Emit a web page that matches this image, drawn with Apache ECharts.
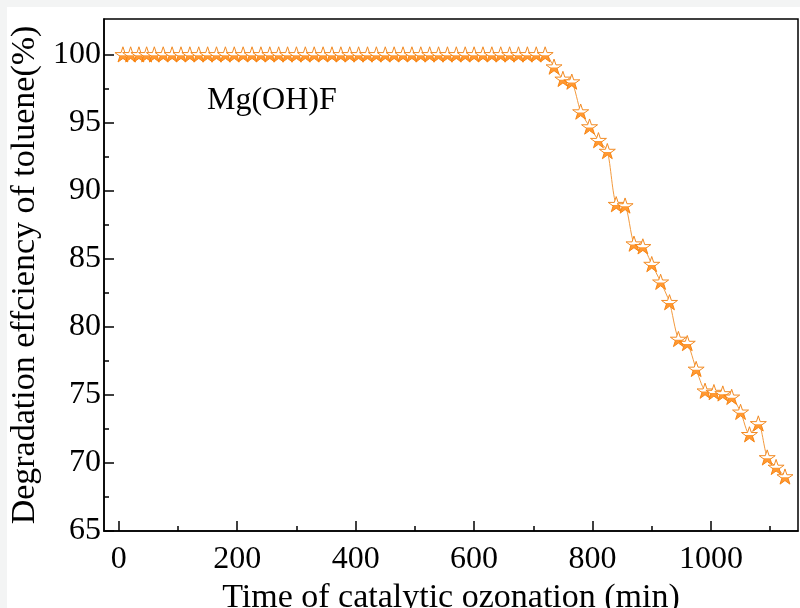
<!DOCTYPE html>
<html>
<head>
<meta charset="utf-8">
<script src="https://cdn.jsdelivr.net/npm/echarts@6/dist/echarts.min.js"></script>
<style>html,body{margin:0;padding:0;background:#fff;}#c{width:800px;height:608px;}</style>
</head>
<body>
<div id="c"></div>
<script>
// Data
var times = [7, 20, 34, 47, 60, 75, 90, 105, 120, 135, 150, 165, 180, 195, 210, 225, 240, 255, 270, 285,
  300, 315, 330, 345, 360, 375, 390, 405, 420, 435, 450, 465, 480, 495, 510, 525, 540, 555, 570, 585,
  600, 615, 630, 645, 660, 675, 690, 705, 720,
  735, 750, 765, 780, 795, 810, 825, 840, 855, 870, 885, 900, 915, 930, 945, 960, 975, 990,
  1005, 1020, 1035, 1050, 1065, 1080, 1095, 1110, 1125];
var efficiency = [100, 100, 100, 100, 100, 100, 100, 100, 100, 100, 100, 100, 100, 100, 100, 100, 100, 100, 100, 100,
  100, 100, 100, 100, 100, 100, 100, 100, 100, 100, 100, 100, 100, 100, 100, 100, 100, 100, 100, 100,
  100, 100, 100, 100, 100, 100, 100, 100, 100,
  99.1, 98.2, 98.0, 95.8, 94.7, 93.7, 92.9, 89.0, 88.9, 86.1, 85.9, 84.6, 83.3, 81.8, 79.1, 78.8, 76.9, 75.3,
  75.2, 75.1, 74.85, 73.75, 72.1, 72.9, 70.4, 69.7, 69.0];
var xMajorTicks = [0, 200, 400, 600, 800, 1000];
var xMinorTicks = [100, 300, 500, 700, 900, 1100];
var yMajorTicks = [65, 70, 75, 80, 85, 90, 95, 100];
var yMinorTicks = [67.5, 72.5, 77.5, 82.5, 87.5, 92.5, 97.5];
var seriesLabel = 'Mg(OH)F';
var xTitle = 'Time of catalytic ozonation (min)';
var yTitle = 'Degradation effciency of toluene(%)';

var pts = times.map(function (t, i) { return [t, efficiency[i]]; });

var starFull = 'path://M0,-10 L2.245,-3.09 L9.511,-3.09 L3.633,1.18 L5.878,8.09 L0,3.82 L-5.878,8.09 L-3.633,1.18 L-9.511,-3.09 L-2.245,-3.09 Z';
var starHalf = 'path://M0,-10 L0,-10 Z M9.511,-3.09 L9.511,-3.09 Z M-9.511,-3.09 L-9.511,-3.09 Z ' +
  'M5.257,0 L3.633,1.18 L5.878,8.09 L0,3.82 L-5.878,8.09 L-3.633,1.18 L-5.257,0 Z';

var font = '"Liberation Serif", "Times New Roman", serif';
var chart = echarts.init(document.getElementById('c'), null, {renderer: 'canvas'});
var xmin = -25, xmax = 1147, ymin = 65, ymax = 102.6;

function xAxisBase(extra) {
  var a = {
    type: 'value', min: xmin, max: xmax, position: 'bottom',
    splitLine: {show: false}
  };
  for (var k in extra) a[k] = extra[k];
  return a;
}
function yAxisBase(extra) {
  var a = {
    type: 'value', min: ymin, max: ymax, position: 'left',
    splitLine: {show: false}
  };
  for (var k in extra) a[k] = extra[k];
  return a;
}
function plain(v) { return String(v); }

chart.setOption({
  backgroundColor: '#ffffff',
  animation: false,
  graphic: [
    {type: 'rect', shape: {x: 0, y: 0, width: 800, height: 7}, style: {fill: '#f3f4f4'}, silent: true},
    {type: 'rect', shape: {x: 0, y: 0, width: 7, height: 608}, style: {fill: '#f3f4f4'}, silent: true},
    {type: 'text', left: 207, top: 85, style: {text: seriesLabel, font: '32px ' + font, fill: '#000'}}
  ],
  grid: {left: 104, right: 2, top: 19, bottom: 77, containLabel: false, outerBoundsMode: 'none',
    show: true, borderColor: '#000', borderWidth: 1.5, backgroundColor: 'transparent'},
  xAxis: [
    xAxisBase({
      name: xTitle, nameLocation: 'middle', nameGap: 40,
      nameTextStyle: {fontFamily: font, fontSize: 34, color: '#000'},
      axisLine: {show: true, onZero: false, lineStyle: {color: '#000', width: 1.5}},
      axisTick: {show: true, inside: true, length: 10, lineStyle: {color: '#000', width: 1.5}, customValues: xMajorTicks},
      axisLabel: {show: true, margin: 13, fontFamily: font, fontSize: 32, color: '#000', customValues: xMajorTicks, formatter: plain}
    }),
    xAxisBase({
      axisLine: {show: false, onZero: false},
      axisTick: {show: true, inside: true, length: 5, lineStyle: {color: '#000', width: 1.5}, customValues: xMinorTicks},
      axisLabel: {show: false}
    })
  ],
  yAxis: [
    yAxisBase({
      name: yTitle, nameLocation: 'middle', nameGap: 54,
      nameTextStyle: {fontFamily: font, fontSize: 34, color: '#000'},
      axisLine: {show: true, onZero: false, lineStyle: {color: '#000', width: 1.5}},
      axisTick: {show: true, inside: true, length: 10, lineStyle: {color: '#000', width: 1.5}, customValues: yMajorTicks},
      axisLabel: {show: true, margin: 3, fontFamily: font, fontSize: 32, color: '#000', customValues: yMajorTicks, formatter: plain}
    }),
    yAxisBase({
      axisLine: {show: false, onZero: false},
      axisTick: {show: true, inside: true, length: 5, lineStyle: {color: '#000', width: 1.5}, customValues: yMinorTicks},
      axisLabel: {show: false}
    })
  ],
  series: [
    {
      type: 'line', data: pts, xAxisIndex: 0, yAxisIndex: 0,
      smooth: 0.25,
      symbol: starFull, symbolSize: 16, symbolKeepAspect: true, showAllSymbol: true,
      lineStyle: {color: '#F39A3E', width: 1},
      itemStyle: {color: '#ffffff', borderColor: '#F28A22', borderWidth: 1},
      z: 3
    },
    {
      type: 'scatter', data: pts, xAxisIndex: 0, yAxisIndex: 0,
      symbol: starHalf, symbolSize: 16, symbolKeepAspect: true,
      itemStyle: {color: '#FF8000', borderWidth: 0},
      z: 4
    }
  ]
});
</script>
</body>
</html>
